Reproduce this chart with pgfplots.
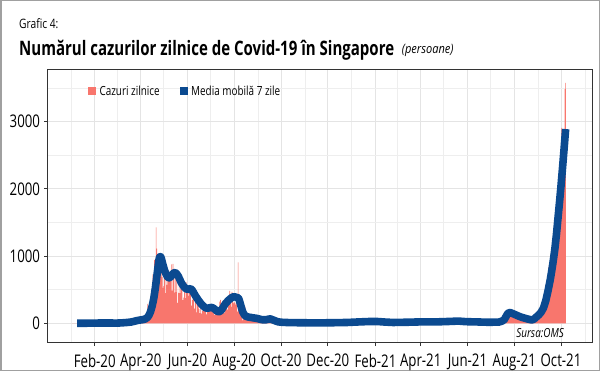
\documentclass[border=0pt]{standalone}
\usepackage{fontspec}
\setmainfont{Open Sans}[FakeStretch=0.79]
\newfontfamily\tickfont{Open Sans}[FakeStretch=0.76]
\usepackage{pgfplots}
\pgfplotsset{compat=1.18}
\usepackage{pgfplotstable}
\definecolor{salmon}{HTML}{F8766D}
\definecolor{navy}{HTML}{0B4A90}
\definecolor{gridmaj}{HTML}{E4E4E4}
\definecolor{gridmin}{HTML}{EEEEEE}
\definecolor{frame}{HTML}{A0A0A0}
\definecolor{dgray}{HTML}{333333}

% daily cases; first row = WHO date 3 Jan 2020 (day index 2, 1 Jan 2020 = 0)
\pgfplotstableread[row sep=\\]{
v\\
0\\0\\0\\0\\0\\0\\0\\0\\0\\0\\0\\0\\0\\0\\0\\0\\0\\0\\0\\0\\0\\1\\2\\0\\1\\1\\2\\2\\3\\3\\
2\\0\\0\\6\\4\\2\\3\\7\\3\\2\\2\\3\\9\\8\\5\\3\\2\\4\\1\\0\\1\\3\\1\\1\\0\\2\\3\\2\\4\\
2\\2\\2\\2\\7\\13\\8\\12\\10\\6\\12\\9\\13\\14\\14\\17\\23\\47\\32\\40\\47\\23\\54\\49\\73\\52\\49\\70\\42\\35\\47\\
74\\49\\65\\75\\120\\66\\106\\142\\287\\198\\191\\233\\386\\334\\447\\728\\623\\942\\596\\1426\\1111\\1016\\897\\618\\931\\799\\799\\690\\528\\552\\
932\\447\\657\\573\\632\\788\\741\\768\\753\\876\\486\\884\\675\\458\\793\\465\\682\\305\\451\\570\\448\\614\\642\\548\\344\\383\\533\\373\\611\\506\\518\\
408\\544\\570\\517\\261\\344\\383\\386\\218\\451\\347\\164\\347\\407\\214\\151\\247\\142\\218\\180\\262\\218\\191\\272\\133\\251\\213\\167\\262\\215\\
215\\185\\183\\179\\126\\183\\157\\142\\191\\166\\191\\322\\347\\211\\248\\334\\275\\158\\230\\322\\319\\205\\354\\278\\481\\385\\246\\469\\359\\295\\313\\
307\\279\\302\\175\\908\\301\\313\\242\\138\\188\\42\\102\\50\\248\\55\\93\\41\\43\\52\\50\\87\\116\\56\\49\\48\\77\\79\\84\\44\\33\\42\\
56\\41\\54\\46\\54\\51\\51\\37\\35\\74\\46\\51\\24\\29\\28\\30\\27\\18\\23\\16\\20\\13\\15\\19\\12\\14\\17\\24\\15\\27\\
19\\12\\10\\15\\10\\8\\13\\7\\4\\12\\5\\9\\11\\6\\7\\5\\3\\9\\10\\7\\7\\5\\11\\6\\5\\7\\8\\9\\7\\6\\6\\
5\\4\\7\\18\\7\\8\\4\\9\\6\\10\\6\\5\\6\\5\\3\\7\\4\\11\\4\\5\\6\\5\\10\\8\\4\\6\\7\\5\\9\\10\\
8\\10\\11\\5\\7\\9\\12\\8\\9\\8\\6\\5\\13\\9\\15\\13\\14\\6\\13\\9\\9\\13\\18\\22\\12\\13\\15\\19\\11\\10\\16\\
21\\28\\23\\26\\20\\16\\32\\22\\22\\28\\40\\21\\19\\36\\31\\15\\27\\24\\21\\19\\20\\12\\25\\29\\31\\49\\39\\25\\32\\29\\32\\
29\\24\\28\\27\\20\\17\\21\\27\\11\\11\\11\\9\\9\\10\\10\\11\\11\\11\\10\\19\\11\\7\\12\\10\\13\\7\\9\\7\\
12\\14\\16\\13\\14\\12\\17\\13\\11\\8\\18\\15\\11\\19\\10\\13\\20\\28\\11\\19\\16\\17\\19\\18\\14\\16\\21\\20\\22\\16\\19\\
23\\29\\33\\35\\22\\13\\24\\33\\24\\20\\19\\21\\28\\18\\24\\14\\21\\18\\26\\14\\27\\21\\18\\31\\22\\35\\28\\26\\14\\19\\
20\\25\\17\\23\\24\\15\\25\\23\\20\\22\\21\\34\\25\\29\\39\\34\\43\\20\\37\\41\\37\\24\\25\\27\\23\\23\\24\\26\\27\\16\\18\\
18\\21\\17\\20\\17\\15\\11\\17\\9\\12\\14\\16\\26\\22\\20\\27\\17\\16\\26\\17\\10\\19\\20\\18\\17\\24\\16\\23\\25\\21\\
19\\21\\18\\17\\20\\11\\11\\15\\8\\12\\13\\42\\56\\42\\41\\42\\88\\104\\172\\163\\182\\162\\170\\129\\115\\136\\135\\157\\128\\125\\132\\
130\\112\\98\\82\\89\\118\\66\\96\\86\\60\\93\\79\\73\\57\\50\\46\\42\\65\\58\\71\\66\\59\\58\\80\\94\\108\\113\\120\\140\\156\\177\\
192\\187\\219\\259\\227\\241\\332\\349\\457\\573\\555\\520\\607\\837\\807\\910\\935\\1009\\1012\\917\\1178\\1457\\1504\\1650\\1443\\1939\\1647\\2236\\2268\\2478\\
2909\\2356\\2057\\2475\\3486\\3577\\
}\daily

\begin{document}
\begin{tikzpicture}[x=1bp,y=1bp]
\useasboundingbox (0,0) rectangle (600,371);
\draw[frame, line width=1.5bp] (0.75,0.75) rectangle (599.25,370.25);

\begin{axis}[
  at={(47.7bp,28.5bp)}, anchor=south west,
  scale only axis, width=544.3bp, height=272.5bp,
  xmin=-30.3, xmax=679.4, ymin=-286, ymax=3769,
  axis line style={dgray, line width=1bp},
  xtick={31,91,152,213,274,335,397,456,517,578,639},
  xticklabels={Feb-20,Apr-20,Jun-20,Aug-20,Oct-20,Dec-20,Feb-21,Apr-21,Jun-21,Aug-21,Oct-21},
  minor xtick={0,60,121,182,244,305,366,425,486,547,609,670},
  ytick={0,1000,2000,3000},
  minor ytick={500,1500,2500,3500},
  grid=both,
  major grid style={gridmaj, line width=0.8bp},
  minor grid style={gridmin, line width=0.6bp},
  tick align=outside,
  xtick pos=bottom, ytick pos=left,
  major tick length=3.5bp, minor tick length=0pt,
  tick style={dgray, line width=0.8bp},
  /pgf/number format/assume math mode=true,
  /pgf/number format/1000 sep={},
  tick label style={font=\tickfont\fontsize{17.5}{18}\selectfont, black},
  yticklabel style={anchor=east, inner sep=0pt, xshift=-4bp},
  xticklabel style={anchor=north, inner sep=0pt, yshift=-8bp},
  clip=true,
]
\addplot[ybar, bar width=0.8, fill=salmon, draw=none] table[x expr=\coordindex+2, y=v] {\daily};
\addplot[navy, line width=7.6bp, line join=round, line cap=butt] coordinates {
(8,1) (20,1) (30,3) (40,4) (50,4) (60,3) (66,6) (72,11) (78,18) (82,28) (86,40) (90,48) (94,55) (97,65)
(100,90) (102,125) (104,180) (106,260) (108,370) (110,520) (112,700) (114,880) (115,960) (116,990) (117,990)
(118,960) (120,870) (122,790) (124,730) (126,690) (128,675) (130,690) (132,720) (134,750) (136,755) (138,735)
(140,700) (142,650) (144,600) (146,565) (148,535) (150,515) (152,505) (154,510) (156,515) (158,495) (160,455)
(162,415) (164,380) (166,345) (168,315) (170,285) (172,262) (174,243) (176,228) (178,225) (180,228) (182,234)
(184,235) (186,222) (188,205) (190,185) (192,172) (194,175) (196,195) (198,230) (200,268) (202,300) (204,325)
(206,348) (208,368) (210,385) (212,395) (214,392) (216,385) (218,378) (219,360) (220,325) (221,285) (222,245)
(223,205) (224,168) (226,128) (228,105) (231,93) (234,88) (238,80) (242,74) (246,62) (250,52) (254,52) (257,60)
(260,66) (263,52) (266,38) (270,22) (275,15) (285,10) (300,8) (320,6) (340,8) (360,12) (375,20) (390,27) (400,26)
(410,18) (420,12) (440,16) (460,22) (480,22) (495,28) (505,33) (515,24) (530,20) (545,15) (558,18) (562,32)
(565,55) (567,95) (569,135) (571,160) (573,158) (576,145) (580,125) (584,105) (588,88) (592,75) (596,62) (600,52)
(602,52) (604,65) (607,95) (610,125) (613,165) (616,225) (619,330) (622,480) (625,650) (627,790) (629,940)
(631,1110) (633,1320) (635,1560) (637,1800) (639,2050) (641,2320) (643,2600) (645,2890)
};
\end{axis}

% titles
\node[anchor=base west, inner sep=0pt] at (19,342.7) {\fontsize{13}{15}\selectfont Grafic 4:};
\node[anchor=base west, inner sep=0pt] at (19,316) {\resizebox{375bp}{\height}{\fontsize{20}{24}\selectfont\bfseries Numărul cazurilor zilnice de Covid-19 în Singapore}};
\node[anchor=base west, inner sep=0pt] at (401.7,317.7) {\resizebox{51.6bp}{\height}{\fontsize{13}{15}\selectfont\itshape (persoane)}};

% legend
\fill[salmon] (88,276.5) rectangle (95.5,284);
\node[anchor=base west, inner sep=0pt] at (99.3,276) {\fontsize{12.6}{14}\selectfont Cazuri zilnice};
\fill[navy] (180,276.5) rectangle (187.5,284);
\node[anchor=base west, inner sep=0pt] at (191,276) {\fontsize{12.6}{14}\selectfont Media mobilă 7 zile};

% source
\node[anchor=base east, inner sep=0pt] at (564,33.3) {\fontsize{12.6}{14}\selectfont\itshape Sursa:OMS};
\end{tikzpicture}
\end{document}
